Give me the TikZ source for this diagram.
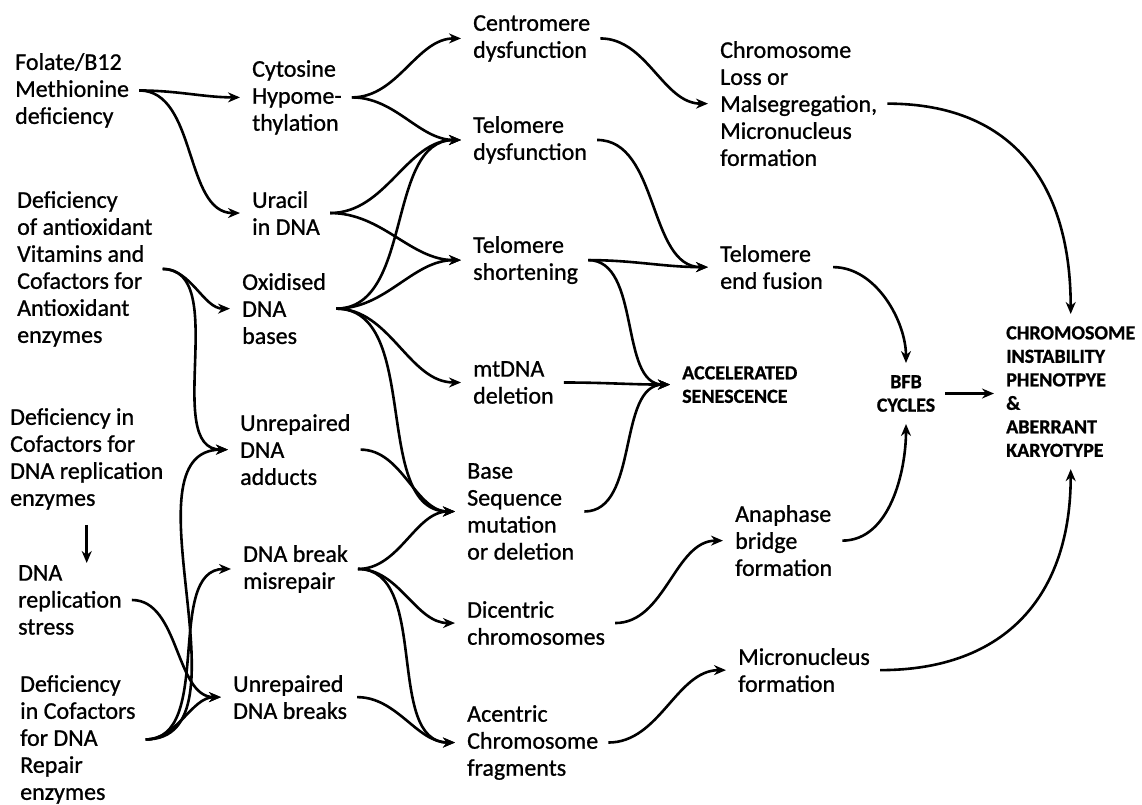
\documentclass[tikz,border=0pt]{standalone}
\usepackage{fontspec}
\setmainfont{Carlito}[FakeBold=0.9]
\usetikzlibrary{arrows.meta}
\tikzset{
  item/.style={anchor=north west, align=left, inner sep=0pt,
    font=\fontsize{24}{27}\selectfont},
  caps/.style={item, font=\fontsize{20}{23.5}\selectfont\bfseries},
  arr/.style={-{Stealth[length=12pt,width=10pt]}, line width=2.6pt,
    shorten <=10pt, shorten >=12pt}
}
\begin{document}
\begin{tikzpicture}[x=1pt,y=1pt]
  \useasboundingbox (0,0) rectangle (1142,-804);
  % causes
  \node[item] (fol) at (15,-53) {Folate/B12\\Methionine\\deficiency};
  \node[item] (antiox) at (17,-191) {Deficiency\\of antioxidant\\Vitamins and\\Cofactors for\\Antioxidant\\enzymes};
  \node[item] (repl) at (10,-408) {Deficiency in\\Cofactors for\\DNA replication\\enzymes};
  \node[item] (stress) at (18,-565) {DNA\\replication\\stress};
  \node[item] (repair) at (20,-675) {Deficiency\\in Cofactors\\for DNA\\Repair\\enzymes};
  % DNA lesions
  \node[item] (cyto) at (252,-60) {Cytosine\\Hypome-\\thylation};
  \node[item] (uracil) at (252,-191) {Uracil\\in DNA};
  \node[item] (oxid) at (242,-273) {Oxidised\\DNA\\bases};
  \node[item] (adduct) at (240,-414) {Unrepaired\\DNA\\adducts};
  \node[item] (misrep) at (243,-545) {DNA break\\misrepair};
  \node[item] (breaks) at (233,-675) {Unrepaired\\DNA breaks};
  % chromosome damage
  \node[item] (centro) at (473,-15) {Centromere\\dysfunction};
  \node[item] (teldys) at (473,-116) {Telomere\\dysfunction};
  \node[item] (telshort) at (473,-236) {Telomere\\shortening};
  \node[item] (mtdna) at (473,-361) {mtDNA\\deletion};
  \node[item] (baseseq) at (467,-463) {Base\\Sequence\\mutation\\or deletion};
  \node[item] (dicent) at (467,-601) {Dicentric\\chromosomes};
  \node[item] (acent) at (467,-705) {Acentric\\Chromosome\\fragments};
  % outcomes
  \node[item] (chrloss) at (720,-41) {Chromosome\\Loss or\\Malsegregation,\\Micronucleus\\formation};
  \node[item] (telfus) at (720,-245) {Telomere\\end fusion};
  \node[caps] (senes) at (682,-366) {ACCELERATED\\SENESCENCE};
  \node[item] (anaph) at (735,-505) {Anaphase\\bridge\\formation};
  \node[item] (micro) at (738,-648) {Micronucleus\\formation};
  \node[caps, anchor=north, align=center] (bfb) at (906,-375) {BFB\\CYCLES};
  \node[caps] (cin) at (1006,-326) {CHROMOSOME\\INSTABILITY\\PHENOTPYE\\\&\\ABERRANT\\KARYOTYPE};

  \foreach \a/\b in {fol/cyto, fol/uracil, antiox/oxid, antiox/adduct,
      stress/breaks, repair/adduct, repair/misrep, repair/breaks,
      cyto/centro, cyto/teldys, uracil/teldys, uracil/telshort,
      oxid/teldys, oxid/telshort, oxid/mtdna, oxid/baseseq,
      adduct/baseseq, misrep/baseseq, misrep/dicent, misrep/acent,
      breaks/acent, centro/chrloss, teldys/telfus, telshort/telfus,
      telshort/senes, mtdna/senes, baseseq/senes, dicent/anaph, acent/micro}
    \draw[arr] (\a.east) to[out=0,in=180] (\b.west);

  \draw[arr, shorten <=15pt, shorten >=2pt] (repl.south) -- (repl.south |- stress.north);
  \draw[arr] (chrloss.east) to[out=0,in=90,looseness=1.2] (cin.north);
  \draw[arr] (telfus.east) to[out=0,in=90] (bfb.north);
  \draw[arr] (anaph.east) to[out=0,in=-90] (bfb.south);
  \draw[arr] (micro.east) to[out=0,in=-90,looseness=1.2] (cin.south);
  \draw[arr] (bfb.east) -- (bfb.east -| cin.west);
\end{tikzpicture}
\end{document}
